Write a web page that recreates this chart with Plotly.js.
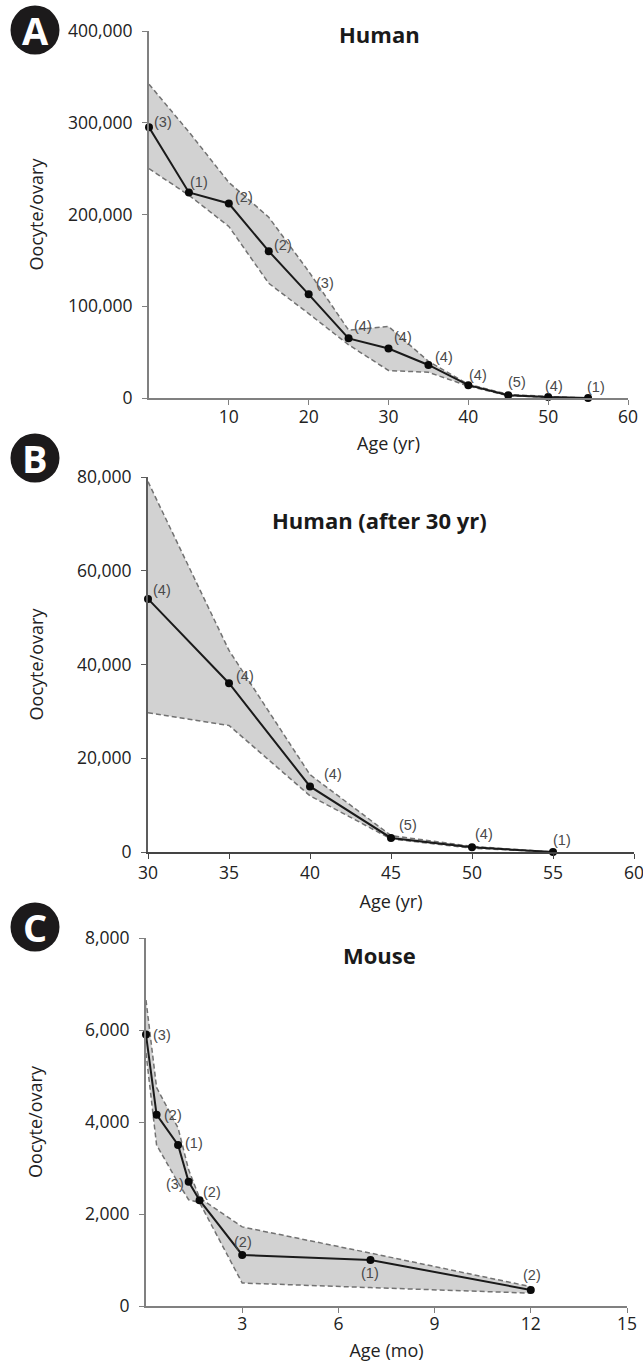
<!DOCTYPE html>
<html><head><meta charset="utf-8">
<script src="https://cdn.plot.ly/plotly-3.0.1.min.js"></script>
<style>html,body{margin:0;padding:0;background:#fff}</style></head>
<body><div id="chart" style="width:643px;height:1363px"></div>
<script>
const agesA=[0,5,10,15,20,25,30,35,40,45,50,55];
const meanA=[295000,224000,212000,160000,113000,65000,54000,36000,14000,3000,1000,0];
const upperA=[342000,290000,235000,197000,138000,74000,78000,40000,15000,4000,1500,0];
const lowerA=[250000,221000,187000,125000,92000,58000,30000,28000,13000,2500,800,0];
const nA=['(3)','(1)','(2)','(2)','(3)','(4)','(4)','(4)','(4)','(5)','(4)','(1)'];
const agesB=[30,35,40,45,50,55];
const meanB=[54000,36000,14000,3000,1000,0];
const upperB=[79000,43000,16500,3500,1200,0];
const lowerB=[29700,27000,12000,2800,800,0];
const nB=['(4)','(4)','(4)','(5)','(4)','(1)'];
const agesC=[0,0.33,1,1.33,1.67,3,7,12];
const meanC=[5900,4160,3500,2700,2300,1110,1000,350];
const upperC=[6650,4750,3870,2960,2350,1720,1150,420];
const lowerC=[5500,3500,2680,2310,2250,500,400,280];
const nC=['(3)','(2)','(1)','(3)','(2)','(2)','(1)','(2)'];
const offA=[[14,5],[10,10],[15,6],[14,6],[16,11],[14,12],[14,11],[16,8],[10,10],[9,13],[6,11],[8,11]];
const offB=[[14,9],[16,7],[23,12],[17,13],[12,13],[9,12]];
const offC=[[16,0],[16,0],[16,2],[-14,-2],[12,8],[1,13],[0,-13],[1,15]];

const SANS='"Open Sans", sans-serif';
const traces=[];
const notes=[];
function panel(ax,ay,x,m,u,l,n,off){
  traces.push({x:x.concat(x.slice().reverse()),y:u.concat(l.slice().reverse()),xaxis:ax,yaxis:ay,mode:'lines',fill:'toself',fillcolor:'#d2d2d2',line:{width:0},hoverinfo:'skip'});
  [u,l].forEach(s=>traces.push({x:x,y:s,xaxis:ax,yaxis:ay,mode:'lines',line:{color:'#727272',width:1.5,dash:'5px,3px'},hoverinfo:'skip'}));
  traces.push({x:x,y:m,xaxis:ax,yaxis:ay,mode:'lines+markers',line:{color:'#1a1a1a',width:2},marker:{color:'#0a0a0a',size:8},cliponaxis:false});
  x.forEach((v,i)=>notes.push({xref:ax,yref:ay,x:v,y:m[i],xshift:off[i][0],yshift:off[i][1],xanchor:'center',yanchor:'middle',showarrow:false,text:n[i],font:{family:'"Liberation Sans", Arial, sans-serif',size:14.5,color:'#4a4a4a'}}));
}
panel('x','y',agesA,meanA,upperA,lowerA,nA,offA);
panel('x2','y2',agesB,meanB,upperB,lowerB,nB,offB);
panel('x3','y3',agesC,meanC,upperC,lowerC,nC,offC);

const W=643,H=1363;
function xa(l,r,anchor,range,vals,title,color,labelOff,stand){return {domain:[l/W,r/W],anchor:anchor,range:range,tickmode:'array',tickvals:vals,ticktext:vals.map(String),ticklabeloverflow:'allow',showgrid:false,zeroline:false,showline:true,linecolor:color,linewidth:2,ticks:'outside',ticklen:5,tickcolor:color,ticklabelstandoff:labelOff,tickfont:{family:SANS,size:17.5,color:'#222'},title:{text:title,font:{family:SANS,size:18,color:'#222'},standoff:stand}};}
function ya(t,b,anchor,range,dt,stand,color){return {domain:[1-b/H,1-t/H],anchor:anchor,range:range,dtick:dt,tick0:0,tickformat:',d',showgrid:false,zeroline:false,showline:true,linecolor:color,linewidth:2,ticks:'outside',ticklen:5,tickcolor:color,ticklabelstandoff:6,tickfont:{family:SANS,size:17.5,color:'#222'},title:{text:'Oocyte/ovary',font:{family:SANS,size:18,color:'#222'},standoff:stand}};}
function badge(cx,cy,t){return {xref:'paper',yref:'paper',x:cx/W,y:1-cy/H,xanchor:'center',yanchor:'middle',showarrow:false,text:'<b>'+t+'</b>',font:{family:SANS,size:38,color:'#fff'}};}
function circle(cx,cy){const r=24.5;return {type:'circle',xref:'paper',yref:'paper',x0:(cx-r)/W,x1:(cx+r)/W,y0:1-(cy+r)/H,y1:1-(cy-r)/H,fillcolor:'#1c1a1b',line:{width:0},layer:'below'};}
function head(cx,cy,t){return {xref:'paper',yref:'paper',x:cx/W,y:1-cy/H,xanchor:'center',yanchor:'middle',showarrow:false,text:'<b>'+t+'</b>',font:{family:SANS,size:22,color:'#1a1a1a'}};}
const layout={width:W,height:H,margin:{l:0,r:0,t:0,b:0},autosize:false,showlegend:false,paper_bgcolor:'#fff',plot_bgcolor:'#fff',
 xaxis:xa(149,628,'y',[0,60],[10,20,30,40,50,60],'Age (yr)','#808080',-3,10),
 yaxis:ya(31,398,'x',[0,400000],100000,20,'#808080'),
 xaxis2:xa(148,634,'y2',[30,60],[30,35,40,45,50,55,60],'Age (yr)','#444',-1,12),
 yaxis2:ya(477,852,'x2',[0,80000],20000,29,'#5c5c5c'),
 xaxis3:xa(146,627,'y3',[0,15],[3,6,9,12,15],'Age (mo)','#808080',-4,10),
 yaxis3:ya(938,1306,'x3',[0,8000],2000,38,'#808080'),
 shapes:[circle(35,30),circle(35,458),circle(35,927)],
 annotations:notes.concat([badge(35,30,'A'),badge(35,458,'B'),badge(35,927,'C'),head(379,34,'Human'),head(379,520,'Human (after 30 yr)'),head(379,955,'Mouse')])};
Plotly.newPlot('chart',traces,layout,{staticPlot:true,displayModeBar:false});
</script></body></html>
